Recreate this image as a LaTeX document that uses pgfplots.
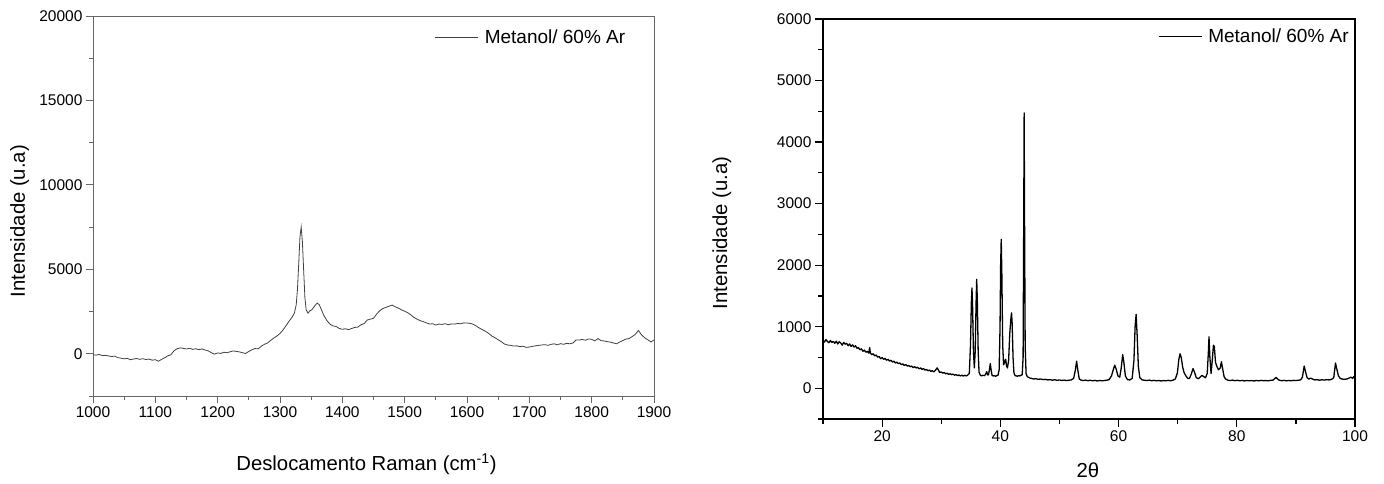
\documentclass[border=0pt]{standalone}
\usepackage{pgfplots}
\pgfplotsset{compat=1.18}
\usepackage{fontspec}
\setmainfont{Liberation Sans}
\pgfplotsset{
  common/.style={
    scale only axis,
    anchor=south west,
    tick align=outside,
    xtick pos=left, ytick pos=left,
    scaled x ticks=false, scaled y ticks=false,
    /pgf/number format/assume math mode=true,
    /pgf/number format/1000 sep={},
    tick label style={font=\fontsize{15.5}{18}\selectfont},
    label style={font=\fontsize{20.3}{23}\selectfont},
    major tick length=7pt, minor tick length=4pt,
    legend style={draw=none, fill=none, font=\fontsize{19}{22}\selectfont, anchor=north east},
    legend cell align=left,
    legend image code/.code={\draw[#1] (0pt,0pt) -- (43pt,0pt); \path (47pt,0pt);},
  }
}
\begin{document}
\begin{tikzpicture}
\useasboundingbox (0,0) rectangle (1384pt,483pt);
\begin{axis}[common,
  at={(93pt,87pt)}, width=561pt, height=380pt,
  xmin=1000, xmax=1900, ymin=-2500, ymax=20000,
  xtick={1000,1100,...,1900}, minor xtick={1050,1150,...,1850},
  ytick={0,5000,...,20000}, minor ytick={-2500,2500,7500,12500,17500},
  axis line style={draw=gray!80!black, line width=0.8pt},
  every tick/.style={gray!80!black, line width=0.8pt},
  xlabel={Deslocamento Raman (cm\textsuperscript{-1})},
  ylabel={Intensidade (u.a)},
  xlabel style={at={(axis description cs:0.4875,-0.179)}, anchor=center},
  ylabel style={at={(axis description cs:-0.131,0.46)}, anchor=center},
  legend style={at={(axis description cs:0.958,0.975)}},
]
\addplot[color=black!75, line width=0.8pt] coordinates {
(1000,-60) (1005,-80) (1010,-40) (1015,-110) (1020,-90) (1025,-130) (1030,-160) (1035,-140) (1040,-230) (1045,-260)
(1050,-300) (1055,-270) (1060,-350) (1065,-310) (1070,-280) (1075,-330) (1080,-290) (1085,-340) (1090,-310) (1095,-380)
(1100,-350) (1105,-440) (1110,-330) (1115,-240) (1120,-120) (1125,-60) (1130,180) (1135,300) (1140,350) (1145,320)
(1150,280) (1155,330) (1160,260) (1165,300) (1170,240) (1175,290) (1180,220) (1185,170) (1190,60) (1195,-20)
(1200,50) (1205,20) (1210,90) (1215,60) (1220,120) (1225,170) (1230,140) (1235,110) (1240,60) (1245,20)
(1250,140) (1255,240) (1260,310) (1265,290) (1270,450) (1275,560) (1280,640) (1285,790) (1290,930) (1295,1050)
(1300,1200) (1305,1420) (1310,1680) (1315,1950) (1320,2200) (1323,2400) (1326,2900) (1328,3800) (1330,5300) (1332,6900)
(1334,7500) (1336,6600) (1338,4900) (1340,3300) (1342,2600) (1345,2400) (1348,2550) (1351,2600) (1354,2750) (1357,2900)
(1360,3000) (1363,2900) (1366,2650) (1370,2300) (1375,1980) (1380,1760) (1385,1650) (1390,1620) (1395,1500) (1400,1450)
(1405,1480) (1410,1430) (1415,1500) (1420,1560) (1425,1580) (1430,1720) (1435,1790) (1440,2000) (1445,2050) (1450,2100)
(1455,2350) (1460,2550) (1465,2680) (1470,2750) (1475,2820) (1480,2880) (1485,2780) (1490,2700) (1495,2600) (1500,2520)
(1505,2430) (1510,2300) (1515,2150) (1520,2050) (1525,1960) (1530,1900) (1535,1830) (1540,1760) (1545,1780) (1550,1700)
(1555,1760) (1560,1740) (1565,1780) (1570,1720) (1575,1770) (1580,1760) (1585,1790) (1590,1780) (1595,1830) (1600,1820)
(1605,1800) (1610,1750) (1615,1640) (1620,1520) (1625,1420) (1630,1320) (1635,1200) (1640,1050) (1645,950) (1650,830)
(1655,720) (1660,580) (1665,520) (1670,500) (1675,460) (1680,470) (1685,420) (1690,450) (1695,380) (1700,400)
(1705,440) (1710,470) (1715,500) (1720,520) (1725,540) (1730,500) (1735,560) (1740,590) (1745,530) (1750,600)
(1755,560) (1760,620) (1765,590) (1770,640) (1775,820) (1780,810) (1785,850) (1790,800) (1795,880) (1800,860)
(1805,760) (1810,900) (1815,780) (1820,760) (1825,720) (1830,690) (1835,640) (1840,590) (1845,700) (1850,780)
(1855,870) (1860,900) (1865,1020) (1870,1150) (1875,1380) (1880,1120) (1885,950) (1890,830) (1895,700) (1900,820)
};
\addlegendentry{Metanol/ 60\% Ar}
\end{axis}
\begin{axis}[common,
  at={(823pt,64pt)}, width=532pt, height=400pt,
  xmin=10, xmax=100, ymin=-500, ymax=6000,
  xtick={20,40,...,100}, minor xtick={10,30,...,90},
  ytick={0,1000,...,6000}, minor ytick={-500,500,...,5500},
  major tick length=8pt, minor tick length=5pt,
  axis line style={line width=1.2pt},
  every tick/.style={black, line width=1.2pt},
  xlabel={2θ},
  ylabel={Intensidade (u.a)},
  xlabel style={at={(axis description cs:0.498,-0.1275)}, anchor=center},
  ylabel style={at={(axis description cs:-0.19,0.465)}, anchor=center},
  legend style={at={(axis description cs:0.998,0.985)}},
]
\addplot[color=black, line width=1.3pt, line join=round] coordinates {
(10.00,780) (10.25,750) (10.50,790) (10.75,760) (11.00,740) (11.25,775) (11.50,745) (11.75,760) (12.00,730) (12.25,765)
(12.50,720) (12.75,755) (13.00,735) (13.25,700) (13.50,745) (13.75,715) (14.00,730) (14.25,690) (14.50,720) (14.75,680)
(15.00,705) (15.25,670) (15.50,690) (15.75,650) (16.00,660) (16.25,625) (16.50,640) (16.75,600) (17.00,620) (17.25,585)
(17.50,600) (17.75,570) (17.90,660) (18.00,575) (18.25,545) (18.50,560) (18.75,525) (19.00,540) (19.25,505) (19.50,515)
(19.75,480) (20.00,500) (20.25,470) (20.50,485) (20.75,455) (21.00,470) (21.25,440) (21.50,455) (21.75,425) (22.00,440)
(22.25,410) (22.50,425) (22.75,400) (23.00,410) (23.25,385) (23.50,395) (23.75,370) (24.00,385) (24.25,360) (24.50,370)
(24.75,350) (25.00,360) (25.25,335) (25.50,350) (25.75,330) (26.00,340) (26.25,315) (26.50,330) (26.75,305) (27.00,320)
(27.25,295) (27.50,305) (27.75,285) (28.00,295) (28.25,275) (28.50,285) (28.75,265) (29.00,290) (29.30,330) (29.50,300)
(29.75,255) (30.00,265) (30.25,245) (30.50,255) (30.75,235) (31.00,245) (31.25,225) (31.50,235) (31.75,220) (32.00,230)
(32.25,212) (32.50,222) (32.75,205) (33.00,215) (33.25,200) (33.50,212) (33.75,198) (34.00,210) (34.25,200) (34.50,215)
(34.75,240) (34.95,700) (35.10,1400) (35.20,1630) (35.30,1350) (35.45,600) (35.60,330) (35.75,600) (35.90,1400) (36.00,1770)
(36.10,1450) (36.25,600) (36.40,260) (36.60,215) (36.80,200) (37.00,210) (37.30,205) (37.50,225) (37.70,270) (37.85,215)
(38.00,220) (38.15,300) (38.30,400) (38.45,290) (38.60,210) (38.80,200) (39.00,205) (39.20,195) (39.40,205) (39.60,210)
(39.80,300) (39.95,1000) (40.05,2000) (40.15,2420) (40.25,1900) (40.40,700) (40.55,380) (40.75,430) (40.90,470) (41.05,360)
(41.20,330) (41.40,450) (41.60,900) (41.80,1150) (41.90,1225) (42.00,1050) (42.15,500) (42.30,250) (42.50,205) (42.70,200)
(42.90,195) (43.10,205) (43.30,200) (43.50,210) (43.70,220) (43.85,500) (43.95,2600) (44.03,4475) (44.10,2700) (44.20,700)
(44.35,240) (44.55,190) (44.80,175) (45.00,165) (45.30,160) (45.60,150) (46.00,155) (46.40,145) (46.80,150) (47.20,140)
(47.60,145) (48.00,135) (48.40,140) (48.80,130) (49.20,138) (49.60,128) (50.00,135) (50.40,126) (50.80,132) (51.20,125)
(51.60,130) (52.00,135) (52.40,160) (52.70,300) (52.90,440) (53.10,300) (53.35,150) (53.70,130) (54.00,125) (54.40,132)
(54.80,122) (55.20,130) (55.60,120) (56.00,128) (56.40,118) (56.80,126) (57.20,120) (57.60,125) (58.00,130) (58.40,140)
(58.80,200) (59.10,300) (59.35,375) (59.60,310) (59.90,200) (60.20,180) (60.45,330) (60.70,545) (60.90,420) (61.15,200)
(61.50,140) (61.90,135) (62.30,160) (62.60,450) (62.80,1000) (62.97,1200) (63.15,850) (63.35,350) (63.60,170) (64.00,135)
(64.40,130) (64.80,125) (65.20,132) (65.60,122) (66.00,128) (66.40,120) (66.80,126) (67.20,118) (67.60,125) (68.00,120)
(68.40,128) (68.80,122) (69.20,130) (69.60,150) (69.95,250) (70.20,470) (70.40,560) (70.60,500) (70.85,340) (71.10,250)
(71.40,200) (71.70,160) (72.00,160) (72.30,230) (72.60,320) (72.85,260) (73.15,170) (73.50,155) (73.80,180) (74.10,210)
(74.40,190) (74.70,170) (75.00,240) (75.20,600) (75.30,835) (75.45,500) (75.65,240) (75.85,450) (76.05,700) (76.20,680)
(76.40,420) (76.65,350) (76.90,300) (77.20,330) (77.40,430) (77.60,320) (77.85,190) (78.10,150) (78.50,130) (78.90,125)
(79.30,132) (79.70,122) (80.10,130) (80.50,120) (80.90,128) (81.30,118) (81.70,126) (82.10,120) (82.50,125) (82.90,118)
(83.30,126) (83.70,120) (84.10,128) (84.50,122) (84.90,125) (85.30,120) (85.70,128) (86.10,130) (86.40,155) (86.65,175)
(86.90,150) (87.20,130) (87.60,122) (88.00,128) (88.40,120) (88.80,126) (89.20,122) (89.60,128) (90.00,125) (90.40,130)
(90.80,135) (91.10,180) (91.40,360) (91.65,260) (91.90,170) (92.20,150) (92.50,165) (92.80,150) (93.20,135) (93.60,140)
(94.00,130) (94.40,138) (94.80,132) (95.20,140) (95.60,135) (96.00,142) (96.40,170) (96.70,410) (96.90,320) (97.20,200)
(97.50,160) (97.80,150) (98.20,145) (98.60,150) (99.00,165) (99.30,180) (99.60,160) (99.80,190) (100.00,175)
};
\addlegendentry{Metanol/ 60\% Ar}
\end{axis}
\end{tikzpicture}
\end{document}
